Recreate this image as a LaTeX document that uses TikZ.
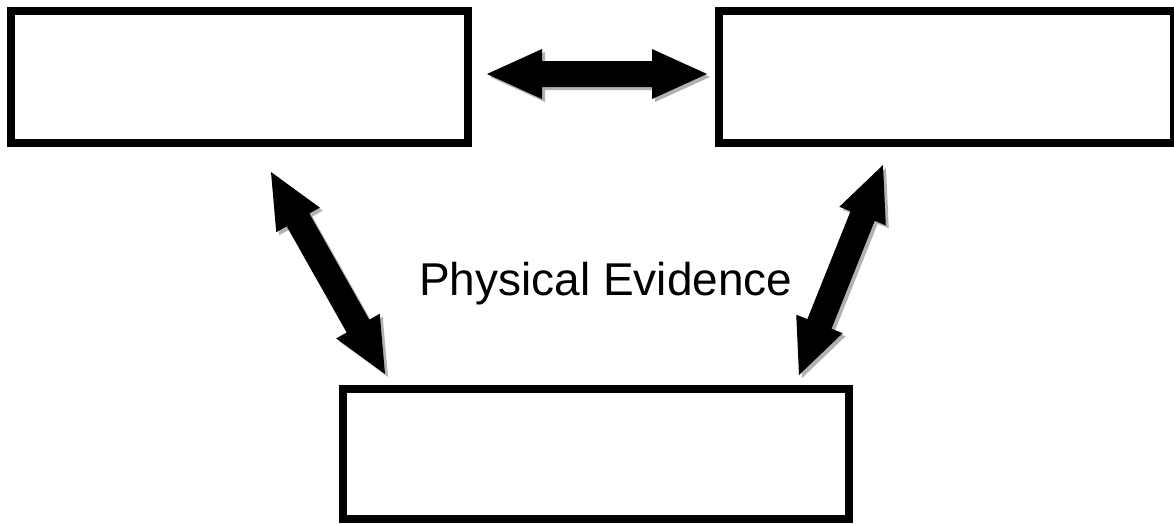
\documentclass[tikz,border=0pt]{standalone}
\usepackage{fontspec}
\setmainfont{Liberation Sans}
\usetikzlibrary{calc}
\newcommand\blockarrow[2]{%
  \pgfmathanglebetweenpoints{\pgfpointanchor{#1}{center}}{\pgfpointanchor{#2}{center}}%
  \let\baang\pgfmathresult
  \pgfpointdiff{\pgfpointanchor{#1}{center}}{\pgfpointanchor{#2}{center}}%
  \pgfgetlastxy{\badx}{\bady}%
  \pgfmathsetmacro\balen{veclen(\badx,\bady)}%
  \pgfmathsetmacro\babase{\balen-55}%
  \begin{scope}[shift={(#1)},shift={(3,3)},rotate=\baang]
    \fill[arrowshadow] (0,0) -- (55,25) -- (55,13) -- (\babase,13) -- (\babase,25) -- (\balen,0)
      -- (\babase,-25) -- (\babase,-13) -- (55,-13) -- (55,-25) -- cycle;
  \end{scope}
  \begin{scope}[shift={(#1)},rotate=\baang]
    \fill[arrowbody] (0,0) -- (55,25) -- (55,13) -- (\babase,13) -- (\babase,25) -- (\balen,0)
      -- (\babase,-25) -- (\babase,-13) -- (55,-13) -- (55,-25) -- cycle;
  \end{scope}%
}
\begin{document}
\begin{tikzpicture}[x=1pt,y=-1pt,
  blockbox/.style={draw=black,line width=8pt,fill=white,inner sep=0pt,minimum width=#1,minimum height=132pt},
  arrowbody/.style={fill=black},
  arrowshadow/.style={fill=black!30},
  evlabel/.style={font=\fontsize{46pt}{50pt}\selectfont,inner sep=0pt,anchor=base west}]
  \useasboundingbox (0,0) rectangle (1174,523);
  \node[blockbox=457pt] (lbox) at (239.5,77) {};
  \node[blockbox=455pt] (rbox) at (946.5,77) {};
  \node[blockbox=506pt,minimum height=130pt] (bbox) at (596,454) {};
  \node[evlabel] (ev) at (419,295) {Physical Evidence};
  \coordinate (h1) at (487,74);
  \coordinate (h2) at (707,74);
  \coordinate (l1) at (271,172);
  \coordinate (l2) at (385,374);
  \coordinate (r1) at (883,165);
  \coordinate (r2) at (799,375);
  \blockarrow{h1}{h2}
  \blockarrow{l1}{l2}
  \blockarrow{r1}{r2}
\end{tikzpicture}
\end{document}
